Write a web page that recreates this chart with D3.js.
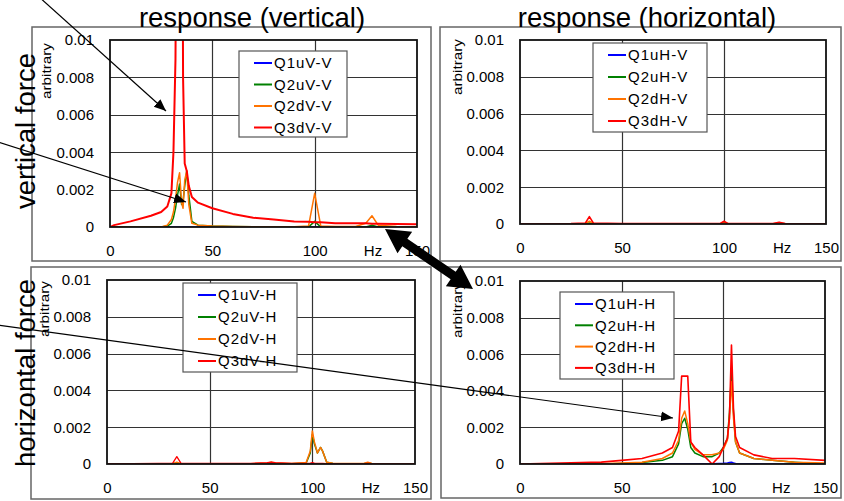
<!DOCTYPE html>
<html>
<head>
  <meta charset="utf-8">
  <title>response spectra</title>
  <script src="https://d3js.org/d3.v7.min.js"></script>
  <style>
    body { margin: 0; background: #fff; }
    text { font-family: "Liberation Sans", Arial, sans-serif; fill: #000; }
  </style>
</head>
<body>
  <div id="graphContainer"></div>
  <script>
    // ---- data ----
    var yTicks = [0, 0.002, 0.004, 0.006, 0.008, 0.01];
    var xTicks = [0, 50, 100, 150];
    var colors = ["#0000ff", "#008000", "#ff7300", "#ff0000"];

    // top left: vertical force, vertical response
    var tlHz  = [0, 2, 10, 20, 25, 28, 30, 31, 32, 33, 34, 35, 35.7, 36.5, 37.5, 38.5, 40, 43, 50, 60, 70, 80, 90, 97, 100, 103, 110, 120, 125, 128, 131, 140, 150];
    var tlQ1  = [0, 0, 0, 0, 0, 0, 0, 0, 0, 0, 0, 0, 0, 0, 0, 0, 0, 0, 0, 0, 0, 0, 0, 0, 0, 0, 0, 0, 0, 0, 0, 0, 0];
    var tlQ2u = [0, 0, 0, 0, 0, 0.00005, 0.0002, 0.0005, 0.001, 0.0017, 0.0023, 0.0012, 0.0014, 0.0022, 0.003, 0.0017, 0.0003, 0.0001, 0.00005, 0.00003, 0.00002, 0, 0, 0, 0.0003, 0, 0, 0, 0, 0.0001, 0, 0, 0];
    var tlQ2d = [0, 0, 0, 0, 0, 0.0001, 0.0004, 0.0008, 0.0015, 0.0024, 0.0029, 0.0013, 0.001, 0.0025, 0.003, 0.0012, 0.0002, 0.0001, 0.00005, 0.00003, 0.00002, 0.00002, 0.00002, 0.00005, 0.0018, 0.00005, 0.00003, 0.00003, 0.0002, 0.0006, 0.0001, 0.00003, 0.00002];
    var tlQ3d = [0, 0.0001, 0.0003, 0.0006, 0.0008, 0.0011, 0.0018, 0.004, 0.009, 0.03, 0.03, 0.03, 0.008, 0.0034, 0.003, 0.0022, 0.0016, 0.0013, 0.001, 0.0007, 0.0005, 0.0004, 0.0003, 0.00028, 0.00026, 0.00025, 0.0002, 0.0002, 0.0002, 0.00018, 0.00017, 0.00016, 0.00015];
    var tlLabels = ["Q1uV-V", "Q2uV-V", "Q2dV-V", "Q3dV-V"];

    // top right: vertical force, horizontal response
    var trHz  = [0, 25, 32, 34, 36, 50, 75, 85, 98, 100, 102, 110, 124, 127, 130, 150];
    var trQ1  = [0, 0, 0, 0, 0, 0, 0, 0, 0, 0, 0, 0, 0, 0, 0, 0];
    var trQ2u = [0, 0, 0.00002, 0.00005, 0.00002, 0, 0, 0, 0, 0.00008, 0.00002, 0, 0, 0.00003, 0, 0];
    var trQ2d = [0, 0, 0.00003, 0.00015, 0.00003, 0.00002, 0.00001, 0.00001, 0.00001, 0.00006, 0.00001, 0.00001, 0.00001, 0.00005, 0.00001, 0];
    var trQ3d = [0, 0.00002, 0.00005, 0.0004, 0.00005, 0.00003, 0.00002, 0.00002, 0.00002, 0.00015, 0.00002, 0.00002, 0.00002, 0.0001, 0.00002, 0];
    var trLabels = ["Q1uH-V", "Q2uH-V", "Q2dH-V", "Q3dH-V"];

    // bottom left: horizontal force, vertical response
    var blHz  = [0, 25, 32, 34, 36, 45, 70, 78, 80, 82, 90, 97, 99, 100, 101, 102.5, 104, 105, 107, 110, 125, 127, 129, 150];
    var blQ1  = [0, 0, 0, 0, 0, 0, 0, 0, 0, 0, 0, 0, 0, 0, 0, 0, 0, 0, 0, 0, 0, 0, 0, 0];
    var blQ2u = [0, 0, 0, 0.00005, 0, 0, 0, 0.00003, 0.00008, 0.00003, 0.00002, 0.00005, 0.0006, 0.0016, 0.0011, 0.0006, 0.0009, 0.0007, 0.0001, 0.00003, 0.00002, 0.00005, 0.00002, 0];
    var blQ2d = [0, 0.00001, 0.00002, 0.0001, 0.00002, 0.00001, 0.00002, 0.00005, 0.0001, 0.00005, 0.00003, 0.00008, 0.0007, 0.0018, 0.0012, 0.0006, 0.0009, 0.0007, 0.0001, 0.00004, 0.00003, 0.0001, 0.00003, 0.00001];
    var blQ3d = [0, 0.00003, 0.00005, 0.0004, 0.00005, 0.00003, 0.00003, 0.00008, 0.0001, 0.00008, 0.00003, 0.00003, 0.00005, 0.00008, 0.00005, 0.00003, 0.00003, 0.00003, 0.00002, 0.00002, 0.00002, 0.00003, 0.00002, 0.00001];
    var blLabels = ["Q1uV-H", "Q2uV-H", "Q2dV-H", "Q3dV-H"];

    // bottom right: horizontal force, horizontal response
    var brHz  = [0, 20, 40, 50, 60, 70, 75, 78, 79.5, 81, 82.5, 84, 86, 90, 94.5, 98, 100, 102, 103, 104, 105, 106, 108, 115, 124, 135, 150];
    var brQ1  = [0, 0, 0, 0, 0, 0.00001, 0.00001, 0.00002, 0.00002, 0.00002, 0.00002, 0.00002, 0.00002, 0.00002, 0.00002, 0.00003, 0.00004, 0.00006, 0.00008, 0.0001, 0.00006, 0.00003, 0.00002, 0.00001, 0, 0, 0];
    var brQ2u = [0, 0, 0, 0.00003, 0.00008, 0.0002, 0.0004, 0.0011, 0.0022, 0.0025, 0.0019, 0.0009, 0.0006, 0.0004, 0.0004, 0.0006, 0.0009, 0.0014, 0.0028, 0.005, 0.0028, 0.0012, 0.0006, 0.0003, 0.0002, 0.0001, 0];
    var brQ2d = [0, 0, 0.00002, 0.00005, 0.0001, 0.0003, 0.0006, 0.0013, 0.0025, 0.0029, 0.0022, 0.0012, 0.0008, 0.0005, 0.0005, 0.0006, 0.0008, 0.0013, 0.0025, 0.0045, 0.0025, 0.0012, 0.0006, 0.0003, 0.0002, 0.0001, 0.00005];
    var brQ3d = [0, 0.00005, 0.0001, 0.0002, 0.0003, 0.0006, 0.0009, 0.0018, 0.0048, 0.0048, 0.0048, 0.0012, 0.0009, 0.0005, 0, 0.0004, 0.0009, 0.0014, 0.0025, 0.0065, 0.003, 0.0015, 0.0009, 0.0005, 0.0003, 0.0003, 0.0002];
    var brLabels = ["Q1uH-H", "Q2uH-H", "Q2dH-H", "Q3dH-H"];

    var width = 844;
    var height = 501;

    var panels = [
      { frame: [32, 27, 431, 261], plot: [110, 40, 417, 227], hz: tlHz, series: [tlQ1, tlQ2u, tlQ2d, tlQ3d], labels: tlLabels,
        legend: [239, 51, 108, 86, 21.5], arb: [51, 71], redWidth: 2 },
      { frame: [440, 27, 841, 261], plot: [520, 40, 826, 224], hz: trHz, series: [trQ1, trQ2u, trQ2d, trQ3d], labels: trLabels,
        legend: [593, 43, 114, 89, 22], arb: [462, 67], redWidth: 1.6 },
      { frame: [31, 267, 431, 499], plot: [107, 280, 415, 464], hz: blHz, series: [blQ1, blQ2u, blQ2d, blQ3d], labels: blLabels,
        legend: [183, 283, 114, 89, 22], arb: [49, 309], redWidth: 1.3 },
      { frame: [441, 267, 841, 498], plot: [520, 281, 825, 464], hz: brHz, series: [brQ1, brQ2u, brQ2d, brQ3d], labels: brLabels,
        legend: [560, 292, 114, 87, 21.3], arb: [462, 310], redWidth: 1.6 }
    ];

    var svg = d3.select("#graphContainer")
      .append("svg")
        .attr("width", width)
        .attr("height", height)
        .style("display", "block");

    svg.append("rect").attr("width", width).attr("height", height).attr("fill", "#fff");

    var defs = svg.append("defs");
    defs.append("marker")
        .attr("id", "head")
        .attr("markerUnits", "userSpaceOnUse")
        .attr("viewBox", "-12 -6 13 12")
        .attr("refX", 0).attr("refY", 0)
        .attr("markerWidth", 13).attr("markerHeight", 12)
        .attr("orient", "auto")
      .append("path")
        .attr("d", "M0,0L-12,-5L-12,5Z")
        .attr("fill", "#000");

    var fmt = function (d) { return d === 0 ? "0" : String(+d.toFixed(3)); };

    panels.forEach(function (p, pi) {
      var f = p.frame, r = p.plot;
      svg.append("rect")
          .attr("x", f[0]).attr("y", f[1])
          .attr("width", f[2] - f[0]).attr("height", f[3] - f[1])
          .attr("fill", "#fff")
          .attr("stroke", "#666")
          .attr("stroke-width", 1.5);

      var x = d3.scaleLinear().domain([0, 150]).range([r[0], r[2]]);
      var y = d3.scaleLinear().domain([0, 0.01]).range([r[3], r[1]]);
      var g = svg.append("g");

      // grid
      g.selectAll(".hg").data(yTicks.slice(1, -1)).enter().append("line")
          .attr("x1", r[0]).attr("x2", r[2])
          .attr("y1", function (d) { return Math.round(y(d)) + 0.5; })
          .attr("y2", function (d) { return Math.round(y(d)) + 0.5; })
          .attr("stroke", "#333").attr("stroke-width", 1.2);
      g.selectAll(".vg").data(xTicks.slice(1, -1)).enter().append("line")
          .attr("y1", r[1]).attr("y2", r[3])
          .attr("x1", function (d) { return Math.round(x(d)) + 0.5; })
          .attr("x2", function (d) { return Math.round(x(d)) + 0.5; })
          .attr("stroke", "#333").attr("stroke-width", 1.2);

      // axes (labels only)
      var ya = g.append("g")
          .attr("transform", "translate(" + r[0] + ",0)")
          .call(d3.axisLeft(y).tickValues(yTicks).tickFormat(fmt).tickSize(0).tickPadding(16));
      var xa = g.append("g")
          .attr("transform", "translate(0," + r[3] + ")")
          .call(d3.axisBottom(x).tickValues(xTicks).tickSize(0).tickPadding(18));
      [ya, xa].forEach(function (a) {
        a.select(".domain").remove();
        a.selectAll("text").attr("font-size", 15).attr("font-family", "\"Liberation Sans\", Arial, sans-serif").attr("fill", "#000");
      });
      xa.append("text")
          .attr("x", x(128.5)).attr("y", 18).attr("dy", "0.71em")
          .attr("text-anchor", "middle")
          .attr("font-size", 15)
          .text("Hz");

      // "arbitrary"
      svg.append("text")
          .attr("transform", "translate(" + p.arb[0] + "," + p.arb[1] + ") rotate(-90)")
          .attr("text-anchor", "middle")
          .attr("font-size", 12)
          .attr("textLength", 56)
          .attr("lengthAdjust", "spacingAndGlyphs")
          .text("arbitrary");

      // series
      var clipId = "clip" + pi;
      defs.append("clipPath").attr("id", clipId)
        .append("rect")
          .attr("x", r[0]).attr("y", r[1])
          .attr("width", r[2] - r[0]).attr("height", r[3] - r[1]);
      var line = d3.line()
          .x(function (d, i) { return x(p.hz[i]); })
          .y(function (d) { return y(d); });
      g.append("g").attr("clip-path", "url(#" + clipId + ")")
        .selectAll("path").data(p.series).enter().append("path")
          .attr("d", line)
          .attr("fill", "none")
          .attr("stroke", function (d, i) { return colors[i]; })
          .attr("stroke-width", function (d, i) { return i === 3 ? p.redWidth : 1.5; })
          .attr("stroke-linejoin", "round");

      // plot border
      g.append("rect")
          .attr("x", r[0]).attr("y", r[1])
          .attr("width", r[2] - r[0]).attr("height", r[3] - r[1])
          .attr("fill", "none")
          .attr("stroke", "#111")
          .attr("stroke-width", 1.8);

      // legend
      var L = p.legend;
      var lg = svg.append("g").attr("transform", "translate(" + L[0] + "," + L[1] + ")");
      lg.append("rect")
          .attr("width", L[2]).attr("height", L[3])
          .attr("fill", "#fff").attr("stroke", "#555").attr("stroke-width", 1.2);
      var items = lg.selectAll(".it").data(p.labels).enter().append("g")
          .attr("transform", function (d, i) { return "translate(0," + (12 + i * L[4]) + ")"; });
      items.append("line")
          .attr("x1", 15).attr("x2", 33)
          .attr("stroke", function (d, i) { return colors[i]; })
          .attr("stroke-width", 2);
      items.append("text")
          .attr("x", 35).attr("dy", "0.36em")
          .attr("font-size", 15)
          .attr("letter-spacing", 1)
          .text(function (d) { return d; });
    });

    // titles
    svg.append("text").attr("x", 252).attr("y", 27).attr("text-anchor", "middle")
        .attr("font-size", 27.5).text("response (vertical)");
    svg.append("text").attr("x", 647).attr("y", 27).attr("text-anchor", "middle")
        .attr("font-size", 27.5).text("response (horizontal)");
    svg.append("text").attr("transform", "translate(35,131) rotate(-90)").attr("text-anchor", "middle")
        .attr("font-size", 27.5).text("vertical force");
    svg.append("text").attr("transform", "translate(35,373) rotate(-90)").attr("text-anchor", "middle")
        .attr("font-size", 27.5).text("horizontal force");

    // thin arrows
    var arrows = [[[38, -4], [166, 111]], [[-2, 142], [186, 202]], [[-2, 325], [673, 418]]];
    arrows.forEach(function (a) {
      svg.append("line")
          .attr("x1", a[0][0]).attr("y1", a[0][1])
          .attr("x2", a[1][0]).attr("y2", a[1][1])
          .attr("stroke", "#000").attr("stroke-width", 1.2)
          .attr("marker-end", "url(#head)");
    });

    // thick double arrow between the panels
    (function () {
      var A = [385, 229], B = [473, 289];
      var dx = B[0] - A[0], dy = B[1] - A[1], len = Math.hypot(dx, dy);
      var ux = dx / len, uy = dy / len, nx = -uy, ny = ux;
      var hl = 24, hw = 13, sw = 4.5;
      function pt(base, along, across) {
        return [base[0] + ux * along + nx * across, base[1] + uy * along + ny * across];
      }
      var pts = [
        A,
        pt(A, hl, hw), pt(A, hl, sw),
        pt(B, -hl, sw), pt(B, -hl, hw),
        B,
        pt(B, -hl, -hw), pt(B, -hl, -sw),
        pt(A, hl, -sw), pt(A, hl, -hw)
      ];
      svg.append("path")
          .attr("d", "M" + pts.map(function (q) { return q[0] + "," + q[1]; }).join("L") + "Z")
          .attr("fill", "#000");
    })();
  </script>
</body>
</html>
